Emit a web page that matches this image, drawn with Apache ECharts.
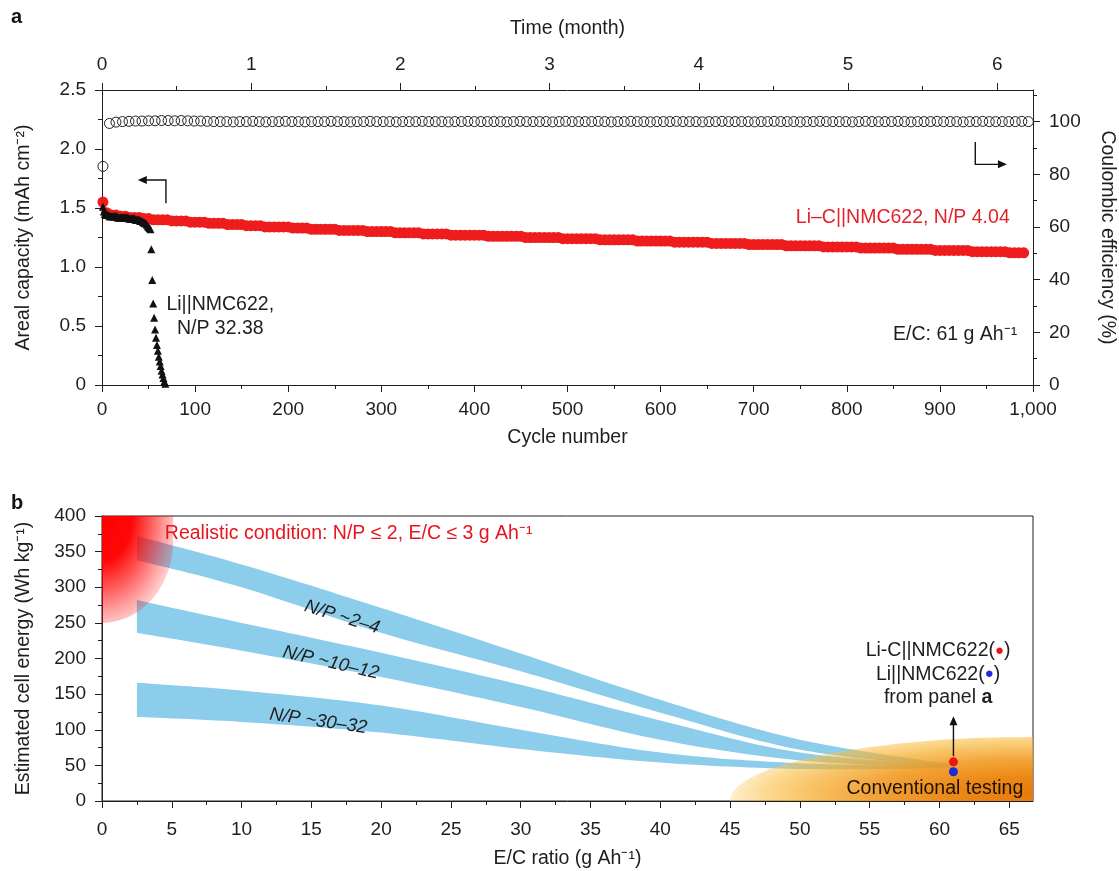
<!DOCTYPE html>
<html>
<head>
<meta charset="utf-8">
<script src="https://cdn.jsdelivr.net/npm/echarts@6.0.0/dist/echarts.min.js"></script>
<style>
html,body{margin:0;padding:0;background:#ffffff;}
#chart{width:1119px;height:871px;}
</style>
</head>
<body>
<div id="chart"></div>
<script>
// ================= Panel a data =================
const monthTicks = [0, 1, 2, 3, 4, 5, 6];
const monthMinorTicks = [0.5, 1.5, 2.5, 3.5, 4.5, 5.5];
const ceTicks = [0, 20, 40, 60, 80, 100];
const ceMinorTicks = [10, 30, 50, 70, 90, 110];

// Li–C||NMC622 areal capacity (mAh cm-2), cycle 1 then every 5 cycles
const redCycles = [1].concat(Array.from({length: 198}, (_, i) => 5 * (i + 1)));
const redCapacity = [
  1.55,
  1.46, 1.44, 1.44, 1.43, 1.43, 1.42, 1.42, 1.42, 1.41, 1.41,
  1.40, 1.40, 1.40, 1.40, 1.39, 1.39, 1.39, 1.39, 1.38, 1.38,
  1.38, 1.38, 1.37, 1.37, 1.37, 1.37, 1.36, 1.36, 1.36, 1.36,
  1.35, 1.35, 1.35, 1.35, 1.34, 1.34, 1.34, 1.34, 1.34, 1.34,
  1.33, 1.33, 1.33, 1.33, 1.32, 1.32, 1.32, 1.32, 1.32, 1.32,
  1.31, 1.31, 1.31, 1.31, 1.31, 1.31, 1.30, 1.30, 1.30, 1.30,
  1.30, 1.30, 1.29, 1.29, 1.29, 1.29, 1.29, 1.29, 1.28, 1.28,
  1.28, 1.28, 1.28, 1.28, 1.27, 1.27, 1.27, 1.27, 1.27, 1.27,
  1.27, 1.27, 1.26, 1.26, 1.26, 1.26, 1.26, 1.26, 1.26, 1.26,
  1.25, 1.25, 1.25, 1.25, 1.25, 1.25, 1.25, 1.25, 1.24, 1.24,
  1.24, 1.24, 1.24, 1.24, 1.24, 1.24, 1.23, 1.23, 1.23, 1.23,
  1.23, 1.23, 1.23, 1.23, 1.22, 1.22, 1.22, 1.22, 1.22, 1.22,
  1.22, 1.22, 1.21, 1.21, 1.21, 1.21, 1.21, 1.21, 1.21, 1.21,
  1.20, 1.20, 1.20, 1.20, 1.20, 1.20, 1.20, 1.20, 1.19, 1.19,
  1.19, 1.19, 1.19, 1.19, 1.19, 1.19, 1.18, 1.18, 1.18, 1.18,
  1.18, 1.18, 1.18, 1.18, 1.17, 1.17, 1.17, 1.17, 1.17, 1.17,
  1.17, 1.17, 1.16, 1.16, 1.16, 1.16, 1.16, 1.16, 1.16, 1.16,
  1.15, 1.15, 1.15, 1.15, 1.15, 1.15, 1.15, 1.15, 1.14, 1.14,
  1.14, 1.14, 1.14, 1.14, 1.14, 1.14, 1.13, 1.13, 1.13, 1.13,
  1.13, 1.13, 1.13, 1.13, 1.12, 1.12, 1.12, 1.12
];

// Li||NMC622 areal capacity (mAh cm-2)
const liCycles = Array.from({length: 68}, (_, i) => i + 1);
const liCapacity = [
  1.51, 1.47, 1.45, 1.44, 1.44, 1.44, 1.44, 1.43, 1.43, 1.43,
  1.43, 1.43, 1.43, 1.43, 1.43, 1.43, 1.42, 1.42, 1.42, 1.42,
  1.42, 1.42, 1.42, 1.42, 1.42, 1.42, 1.42, 1.42, 1.41, 1.41,
  1.41, 1.41, 1.41, 1.41, 1.41, 1.40, 1.40, 1.40, 1.40, 1.40,
  1.39, 1.39, 1.39, 1.38, 1.38, 1.37, 1.37, 1.36, 1.35, 1.34,
  1.33, 1.32, 1.15, 0.89, 0.69, 0.57, 0.47, 0.40, 0.34, 0.29,
  0.24, 0.20, 0.16, 0.12, 0.09, 0.06, 0.03, 0.01
];

// Coulombic efficiency (%)
const ceCycles = [1].concat(Array.from({length: 142}, (_, i) => 8 + 7 * i));
const ceValues = [
  83.0, 99.3, 99.8, 100.0, 100.1, 100.2, 100.2, 100.3, 100.3, 100.4, 100.4, 100.3, 100.4, 100.3, 100.2, 100.2, 100.1, 100.0, 100.0, 100.0,
  99.9, 100.0, 100.0, 100.1, 100.0, 99.9, 100.0, 100.0, 100.1, 100.0, 100.0, 99.9, 100.0, 100.0, 100.0, 100.1, 100.0, 100.0, 99.9, 100.0,
  100.0, 100.1, 100.0, 100.0, 100.0, 99.9, 100.0, 100.0, 100.0, 100.1, 100.0, 100.0, 100.0, 99.9, 100.0, 100.0, 100.1, 100.0, 100.0, 100.0,
  100.0, 100.0, 99.9, 100.0, 100.1, 100.0, 100.0, 100.0, 100.0, 99.9, 100.0, 100.1, 100.0, 100.0, 100.0, 100.0, 100.1, 100.0, 99.9, 100.0,
  100.0, 100.1, 100.0, 100.0, 99.9, 100.0, 100.0, 100.0, 100.1, 100.0, 100.0, 100.0, 99.9, 100.0, 100.0, 100.1, 100.0, 100.0, 100.0, 100.0,
  99.9, 100.0, 100.0, 100.1, 100.0, 100.0, 100.0, 99.9, 100.0, 100.0, 100.1, 100.0, 100.0, 100.0, 100.0, 99.9, 100.0, 100.1, 100.0, 100.0,
  100.0, 100.0, 100.1, 100.0, 99.9, 100.0, 100.0, 100.0, 100.1, 100.0, 100.0, 100.0, 99.9, 100.0, 100.0, 100.1, 100.0, 100.0, 100.0, 100.0,
  100.0, 100.1, 100.0
];

// ================= Panel b data =================
const ecTicks = [0, 5, 10, 15, 20, 25, 30, 35, 40, 45, 50, 55, 60, 65];
const ecMinorTicks = [2.5, 7.5, 12.5, 17.5, 22.5, 27.5, 32.5, 37.5, 42.5, 47.5, 52.5, 57.5, 62.5];

const bandEC = [2.5, 10, 20, 30, 40, 50, 61];
const np2to4Upper   = [372, 332, 271, 207, 142, 86, 51];
const np2to4Lower   = [338, 300, 236, 182, 124, 72, 47];
const np10to12Upper = [282, 250, 208, 163, 113, 68, 50];
const np10to12Lower = [236, 211, 174, 132, 86, 57, 46];
const np30to32Upper = [166, 155, 134, 100, 68, 53, 49];
const np30to32Lower = [118, 111, 96, 73, 54, 45, 46];

const panelAPointEC = [61, 61];
const panelAPointEnergy = [55, 41];       // Li-C||NMC622 (red), Li||NMC622 (blue)

// [E/C left, E/C right, energy bottom, energy corner, energy top]
const realisticZone = [0, 5.1, 250, 365, 400];
// [E/C left, E/C right(centre), energy bottom, energy top]
const conventionalZone = [45, 66.7, 0, 90];

// ================= Chart =================
const FONT = '"Liberation Sans", Arial, Helvetica, sans-serif';
const INK = '#1e1e1e';
const BLUE = '#8CCDEB';
const RED = '#ee1c1c';
const TICK_FS = 19;
const NAME_FS = 19.5;
const NOTE_FS = 19.5;

function baseAxis(extra) {
  const a = {
    type: 'value',
    axisLine: {show: true, onZero: false, lineStyle: {color: INK, width: 1}},
    axisTick: {show: true, inside: false, length: 7, lineStyle: {color: INK, width: 1}},
    minorTick: {show: false},
    axisLabel: {show: true, color: INK, fontSize: TICK_FS, fontFamily: FONT},
    splitLine: {show: false},
    minorSplitLine: {show: false},
    nameLocation: 'middle',
    nameTextStyle: {color: INK, fontSize: NAME_FS, fontFamily: FONT}
  };
  for (const k in extra) {
    if (extra[k] && typeof extra[k] === 'object' && !Array.isArray(extra[k]) && a[k] && typeof a[k] === 'object') {
      a[k] = Object.assign({}, a[k], extra[k]);
    } else {
      a[k] = extra[k];
    }
  }
  return a;
}

// Catmull-Rom smoothing of a pixel path (rendering only)
function smoothPath(pts, n) {
  const out = [];
  for (let i = 0; i < pts.length - 1; i++) {
    const p0 = pts[Math.max(i - 1, 0)], p1 = pts[i], p2 = pts[i + 1], p3 = pts[Math.min(i + 2, pts.length - 1)];
    for (let k = 0; k < n; k++) {
      const t = k / n, t2 = t * t, t3 = t2 * t;
      const f = j => 0.5 * (2 * p1[j] + (-p0[j] + p2[j]) * t + (2 * p0[j] - 5 * p1[j] + 4 * p2[j] - p3[j]) * t2 + (-p0[j] + 3 * p1[j] - 3 * p2[j] + p3[j]) * t3);
      out.push([f(0), f(1)]);
    }
  }
  out.push(pts[pts.length - 1].slice());
  return out;
}

function bandRender(params, api) {
  if (params.dataIndexInside !== 0) return null;
  const n = params.dataInsideLength;
  const up = [], lo = [];
  for (let i = 0; i < n; i++) {
    up.push(api.coord([api.value(0, i), api.value(2, i)]));
    lo.push(api.coord([api.value(0, i), api.value(1, i)]));
  }
  const pts = smoothPath(up, 14).concat(smoothPath(lo, 14).reverse());
  return {type: 'polygon', shape: {points: pts}, style: {fill: BLUE}};
}

const chart = echarts.init(document.getElementById('chart'), null, {renderer: 'canvas'});

const bandSeries = [[np2to4Lower, np2to4Upper], [np10to12Lower, np10to12Upper], [np30to32Lower, np30to32Upper]].map(([lo, up]) => ({
  type: 'custom', xAxisIndex: 3, yAxisIndex: 3, z: 2, silent: true,
  data: bandEC.map((x, i) => [x, lo[i], up[i]]),
  encode: {x: 0, y: [1, 2]},
  renderItem: bandRender
}));

const option = {
  animation: false,
  backgroundColor: '#ffffff',
  textStyle: {fontFamily: FONT},
  grid: [
    {left: 102, top: 90, width: 931, height: 295, outerBoundsMode: 'none', containLabel: false},
    {left: 102, top: 516, width: 931, height: 285, outerBoundsMode: 'none', containLabel: false,
     show: true, borderColor: INK, borderWidth: 1, backgroundColor: 'transparent'}
  ],
  xAxis: [
    baseAxis({gridIndex: 0, position: 'bottom', min: 0, max: 1000, interval: 100,
      minorTick: {show: true, splitNumber: 2, length: 4, lineStyle: {color: INK}},
      axisLabel: {margin: 15, formatter: v => v === 1000 ? '1,000' : String(v)},
      name: 'Cycle number', nameGap: 43}),
    baseAxis({gridIndex: 0, position: 'top', min: 0, max: 6.24,
      axisTick: {customValues: monthTicks},
      axisLabel: {customValues: monthTicks, margin: 16},
      name: 'Time (month)', nameGap: 51}),
    baseAxis({gridIndex: 0, position: 'top', min: 0, max: 6.24,
      axisLine: {show: false}, axisTick: {customValues: monthMinorTicks, length: 4},
      axisLabel: {show: false}}),
    baseAxis({gridIndex: 1, position: 'bottom', min: 0, max: 66.7,
      axisTick: {customValues: ecTicks},
      axisLabel: {customValues: ecTicks, margin: 19},
      name: 'E/C ratio (g Ah\u207B\u00B9)', nameGap: 48}),
    baseAxis({gridIndex: 1, position: 'bottom', min: 0, max: 66.7,
      axisLine: {show: false}, axisTick: {customValues: ecMinorTicks, length: 4},
      axisLabel: {show: false}})
  ],
  yAxis: [
    baseAxis({gridIndex: 0, position: 'left', min: 0, max: 2.5, interval: 0.5,
      minorTick: {show: true, splitNumber: 2, length: 4, lineStyle: {color: INK}},
      axisLabel: {margin: 16, formatter: v => v === 0 ? '0' : v.toFixed(1)},
      name: 'Areal capacity (mAh cm\u207B\u00B2)', nameGap: 68, nameRotate: 90}),
    baseAxis({gridIndex: 0, position: 'right', min: 0, max: 112,
      axisTick: {customValues: ceTicks},
      axisLabel: {customValues: ceTicks, margin: 16},
      name: 'Coulombic efficiency (%)', nameGap: 64, nameRotate: -90}),
    baseAxis({gridIndex: 0, position: 'right', min: 0, max: 112,
      axisLine: {show: false}, axisTick: {customValues: ceMinorTicks, length: 4},
      axisLabel: {show: false}}),
    baseAxis({gridIndex: 1, position: 'left', min: 0, max: 400, interval: 50,
      minorTick: {show: true, splitNumber: 2, length: 4, lineStyle: {color: INK}},
      axisLabel: {margin: 16},
      name: 'Estimated cell energy (Wh kg\u207B\u00B9)', nameGap: 68, nameRotate: 90})
  ],
  series: [
    {type: 'scatter', xAxisIndex: 0, yAxisIndex: 0, z: 2, silent: true,
     data: redCycles.map((c, i) => [c, redCapacity[i]]),
     symbol: 'circle', symbolSize: 11, itemStyle: {color: RED, opacity: 1}},
    {type: 'scatter', xAxisIndex: 0, yAxisIndex: 0, z: 3, silent: true,
     data: liCycles.map((c, i) => [c, liCapacity[i]]),
     symbol: 'triangle', symbolSize: 8, itemStyle: {color: '#111111', opacity: 1}},
    {type: 'scatter', xAxisIndex: 0, yAxisIndex: 1, z: 3, silent: true,
     data: ceCycles.map((c, i) => [c, ceValues[i]]),
     symbol: 'circle', symbolSize: 10,
     itemStyle: {color: 'rgba(0,0,0,0)', borderColor: '#222', borderWidth: 1, opacity: 1}},
    ...bandSeries,
    {type: 'custom', xAxisIndex: 3, yAxisIndex: 3, z: 3, silent: true,
     data: [realisticZone],
     renderItem: function (params, api) {
       const x0 = api.value(0), x1 = api.value(1), yb = api.value(2), yc = api.value(3), yt = api.value(4);
       const pT = api.coord([x0, yt]), pR = api.coord([x1, yc]), pB = api.coord([x0, yb]), pC = api.coord([x0, yc]);
       const rx = pR[0] - pC[0], ry = pB[1] - pC[1];
       const ox = pT[0], oy = pT[1], sy = 1.5;
       const pts = [[0, 0], [pR[0] - ox, 0]];
       for (let k = 0; k <= 30; k++) {
         const t = k / 30 * Math.PI / 2;
         pts.push([pC[0] + rx * Math.cos(t) - ox, (pC[1] + ry * Math.sin(t) - oy) / sy]);
       }
       const g = new echarts.graphic.RadialGradient(0, 0, 80, [
         {offset: 0, color: 'rgba(255,0,0,1)'}, {offset: 0.38, color: 'rgba(255,0,0,0.97)'},
         {offset: 0.6, color: 'rgba(255,0,0,0.66)'}, {offset: 0.8, color: 'rgba(255,0,0,0.37)'},
         {offset: 0.9, color: 'rgba(255,0,0,0.23)'}, {offset: 1, color: 'rgba(255,0,0,0.12)'}
       ], true);
       return {type: 'polygon', x: ox, y: oy, scaleX: 1, scaleY: sy,
         shape: {points: pts}, style: {fill: g}};
     }},
    {type: 'custom', xAxisIndex: 3, yAxisIndex: 3, z: 3, silent: true,
     data: [conventionalZone],
     renderItem: function (params, api) {
       const c = api.coord([api.value(1), api.value(2)]);
       const l = api.coord([api.value(0), api.value(2)]);
       const t = api.coord([api.value(1), api.value(3)]);
       const rx = c[0] - l[0], ry = c[1] - t[1];
       const g = new echarts.graphic.RadialGradient(0, -0.1 * ry, 1.1 * ry, [
         {offset: 0, color: 'rgba(230,122,10,1)'}, {offset: 0.25, color: 'rgba(235,130,9,0.95)'},
         {offset: 0.5, color: 'rgba(241,149,23,0.85)'}, {offset: 0.68, color: 'rgba(245,171,42,0.7)'},
         {offset: 0.8, color: 'rgba(250,184,50,0.55)'}, {offset: 0.92, color: 'rgba(252,212,120,0.35)'},
         {offset: 1, color: 'rgba(255,235,190,0)'}
       ], true);
       return {type: 'sector', x: c[0], y: c[1], scaleX: rx / ry, scaleY: 1,
         shape: {cx: 0, cy: 0, r0: 0, r: ry, startAngle: Math.PI, endAngle: Math.PI * 1.5, clockwise: true},
         style: {fill: g}};
     }},
    {type: 'scatter', xAxisIndex: 3, yAxisIndex: 3, z: 5, silent: true,
     data: [[panelAPointEC[0], panelAPointEnergy[0]]], symbolSize: 9, itemStyle: {color: '#e8161b', opacity: 1}},
    {type: 'scatter', xAxisIndex: 3, yAxisIndex: 3, z: 5, silent: true,
     data: [[panelAPointEC[1], panelAPointEnergy[1]]], symbolSize: 9, itemStyle: {color: '#1c2bd8', opacity: 1}}
  ]
};

chart.setOption(option);

// ---------- annotations (placed through the axes' scales) ----------
const fA = {xAxisIndex: 0, yAxisIndex: 0};
const fB = {xAxisIndex: 3, yAxisIndex: 3};
function P(f, p) { return chart.convertToPixel(f, p); }
function txt(f, p, text, st, rotDeg) {
  const q = P(f, p);
  return {type: 'text', x: q[0], y: q[1], rotation: rotDeg ? rotDeg * Math.PI / 180 : 0, z: 100, silent: true,
    style: Object.assign({text: text, fill: INK, fontSize: NOTE_FS, fontFamily: FONT, align: 'left', verticalAlign: 'middle'}, st)};
}
function arrow(f, pts) {
  const p = pts.map(v => P(f, v));
  const a = p[p.length - 2], b = p[p.length - 1];
  const ang = Math.atan2(b[1] - a[1], b[0] - a[0]);
  const L = 9, W = 4;
  const c = Math.cos(ang), s = Math.sin(ang);
  const head = [[b[0], b[1]], [b[0] - L * c + W * s, b[1] - L * s - W * c], [b[0] - L * c - W * s, b[1] - L * s + W * c]];
  const shaft = p.slice(0, -1).concat([[b[0] - L * 0.7 * c, b[1] - L * 0.7 * s]]);
  return [
    {type: 'polyline', z: 100, silent: true, shape: {points: shaft}, style: {stroke: '#111', lineWidth: 1.4, fill: null}},
    {type: 'polygon', z: 100, silent: true, shape: {points: head}, style: {fill: '#111'}}
  ];
}

const els = [];
els.push({type: 'text', x: 11, y: 17, z: 100, style: {text: 'a', fill: '#111', fontSize: 20, fontWeight: 'bold', fontFamily: FONT, align: 'left', verticalAlign: 'middle'}});
els.push({type: 'text', x: 11, y: 503, z: 100, style: {text: 'b', fill: '#111', fontSize: 20, fontWeight: 'bold', fontFamily: FONT, align: 'left', verticalAlign: 'middle'}});

// panel a
els.push(txt(fA, [975, 1.415], 'Li\u2013C||NMC622, N/P 4.04', {fill: '#e3232c', align: 'right'}));
els.push(txt(fA, [983, 0.424], 'E/C: 61 g Ah\u207B\u00B9', {align: 'right'}));
els.push(txt(fA, [127, 0.576], 'Li||NMC622,\nN/P 32.38', {align: 'center', lineHeight: 24}));
els.push(...arrow(fA, [[68.7, 1.54], [68.7, 1.737], [38.5, 1.737]]));
els.push(...arrow(fA, [[938, 2.06], [938, 1.87], [972, 1.87]]));

// panel b
els.push(txt(fB, [4.5, 375], 'Realistic condition: N/P \u2264 2, E/C \u2264 3 g Ah\u207B\u00B9', {fill: '#e8141e'}));
els.push(txt(fB, [17.2, 258], 'N/P ~2\u20134', {align: 'center', fontSize: 18.5, fontStyle: 'italic'}, -17));
els.push(txt(fB, [16.4, 194], 'N/P ~10\u201312', {align: 'center', fontSize: 18.5, fontStyle: 'italic'}, -13));
els.push(txt(fB, [15.5, 112], 'N/P ~30\u201332', {align: 'center', fontSize: 18.5, fontStyle: 'italic'}, -8));
els.push(txt(fB, [59.9, 178], 'Li-C||NMC622({r|\u25CF})\nLi||NMC622({b|\u25CF})\nfrom panel {bo|a}', {
  align: 'center', lineHeight: 23.5,
  rich: {
    r: {fill: '#e8161b', fontSize: 15, fontFamily: FONT, lineHeight: 23.5},
    b: {fill: '#1c2bd8', fontSize: 15, fontFamily: FONT, lineHeight: 23.5},
    bo: {fill: INK, fontSize: NOTE_FS, fontWeight: 'bold', fontFamily: FONT, lineHeight: 23.5}
  }
}));
els.push(...arrow(fB, [[61, 63], [61, 119]]));
els.push(txt(fB, [66.0, 18], 'Conventional testing', {align: 'right', fill: '#1a1208'}));

chart.setOption({graphic: els});
</script>
</body>
</html>
